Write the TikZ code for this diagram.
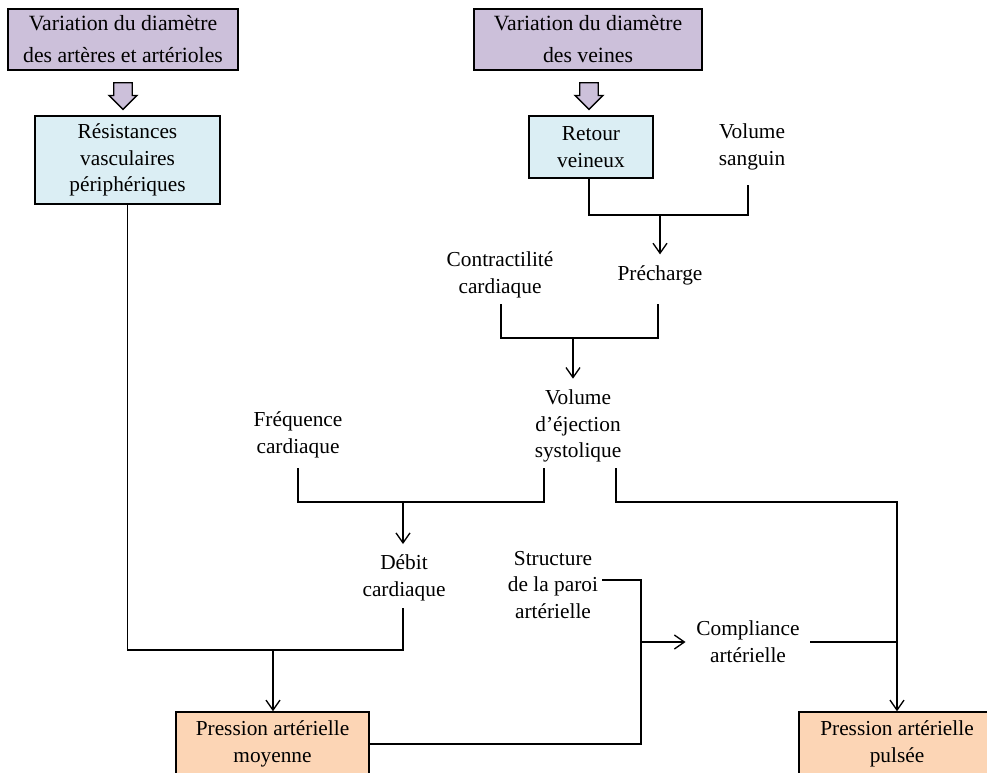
\documentclass[tikz,border=0pt]{standalone}
\usepackage{fontspec}
\setmainfont{Liberation Serif}
\usepackage{tikz}
\usetikzlibrary{arrows.meta, positioning, shapes.arrows, calc}
\definecolor{violetclair}{RGB}{204, 192, 218}
\definecolor{bleuclair}{RGB}{219, 238, 244}
\definecolor{orangeclair}{RGB}{252, 213, 181}
\newcommand{\grandtexte}{\fontsize{16.3}{24}\selectfont}
\newcommand{\texte}{\fontsize{16}{20}\selectfont}

\begin{document}
\begin{tikzpicture}[x=0.75pt, y=-0.75pt,
    boite/.style={draw, line width=1.1pt, font=\texte, align=center, inner sep=0pt},
    boitetitre/.style={boite, fill=violetclair, font=\grandtexte},
    libelle/.style={font=\texte, align=center, inner sep=8pt},
    trait/.style={line width=1pt},
    fleche/.style={trait, -{Straight Barb[length=7.5pt, width=10.5pt]}},
    grossefleche/.style={single arrow, draw, fill=violetclair, line width=1pt, rotate=-90,
        minimum height=20pt, minimum width=20pt, single arrow head extend=3.6pt,
        inner xsep=0pt, inner ysep=6.4pt}]
    \useasboundingbox (0,0) rectangle (987,773);

    % Cadres du haut (diamètre des vaisseaux)
    \node[boitetitre, minimum width=172.5pt, minimum height=45.75pt] (var1) at (123,39.5)
        {Variation du diamètre\\des artères et artérioles};
    \node[boitetitre, minimum width=171pt, minimum height=45.75pt] (var2) at (588,39.5)
        {Variation du diamètre\\des veines};

    % Grosses flèches violettes
    \node[grossefleche] (fl1) at (123,91.5) {};
    \node[grossefleche] (fl2) at (589,91.5) {};

    % Cadres bleus
    \node[boite, fill=bleuclair, minimum width=138.75pt, minimum height=66pt] (resist) at (127.5,160)
        {Résistances\\vasculaires\\périphériques};
    \node[boite, fill=bleuclair, minimum width=93pt, minimum height=46.5pt] (retour) at (591,147)
        {Retour\\veineux};

    % Textes libres
    \node[libelle] (sang) at (752,147) {Volume\\sanguin};
    \node[libelle] (prech) at (660,275) {Précharge};
    \node[libelle] (contr) at (500,275) {Contractilité\\cardiaque};
    \node[libelle] (vej) at (578,426) {Volume\\d’éjection\\systolique};
    \node[libelle] (freq) at (298,435) {Fréquence\\cardiaque};
    \node[libelle] (debit) at (404,578) {Débit\\cardiaque};
    \node[libelle] (struct) at (553,585) {Structure\\de la paroi\\artérielle};
    \node[libelle] (compl) at (748,642) {Compliance\\artérielle};

    % Cadres orange du bas
    \node[boite, fill=orangeclair, minimum width=144.75pt, minimum height=48pt] (pam) at (272.5,744)
        {Pression artérielle\\moyenne};
    \node[boite, fill=orangeclair, minimum width=147pt, minimum height=48pt] (pap) at (897,744)
        {Pression artérielle\\pulsée};

    % Points de jonction
    \coordinate (jprech) at (660,215);
    \coordinate (jvej) at (573,338);
    \coordinate (jdeb) at (403,502);
    \coordinate (jpam) at (273,650);
    \coordinate (jcompl) at (641,642);

    % Retour veineux + volume sanguin -> précharge
    \draw[trait] ($(retour.south)+(-2,0)$) |- ($(sang)+(-4,68)$) -- ($(sang)+(-4,38)$);
    \draw[fleche] (jprech) -- (jprech |- prech.north);

    % Contractilité + précharge -> volume d'éjection
    \draw[trait] ($(contr)+(1,29)$) |- ($(prech)+(-2,63)$) -- ($(prech)+(-2,29)$);
    \draw[fleche] (jvej) -- (jvej |- vej.north);

    % Fréquence + volume d'éjection -> débit
    \draw[trait] ($(freq)+(0,33)$) |- ($(vej)+(-34,76)$) -- ($(vej)+(-34,42)$);
    \draw[fleche] (jdeb) -- (jdeb |- debit.north);

    % Volume d'éjection -> pression pulsée
    \draw[fleche] ($(vej)+(38,42)$) -- ($(vej)+(38,76)$) -| (pap.north);
    \draw[trait] (compl.east) -- (compl.east -| pap.north);

    % Résistances + débit -> pression moyenne
    \draw[trait] (resist.south) |- ($(debit)+(-1,72)$) -- ($(debit)+(-1,30)$);
    \draw[fleche] (jpam) -- (jpam |- pam.north);

    % Structure de la paroi + pression moyenne -> compliance
    \draw[trait] ($(struct)+(49,-5)$) -| (jcompl);
    \draw[trait] (pam.east) -| (jcompl);
    \draw[fleche] (jcompl) -- (compl.west);
\end{tikzpicture}
\end{document}
